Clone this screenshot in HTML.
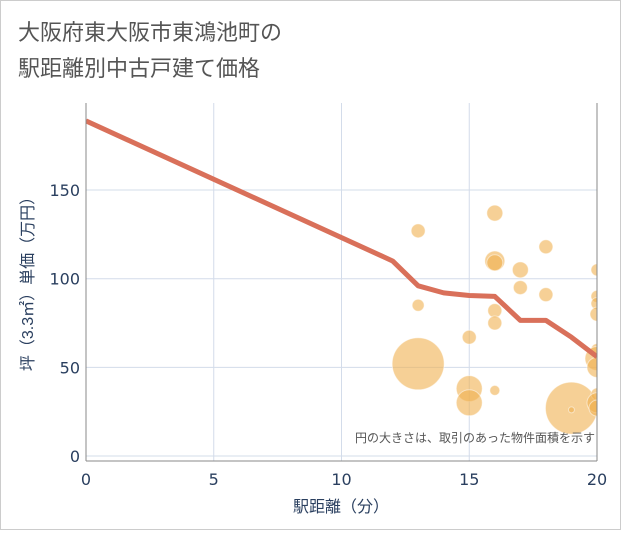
<!DOCTYPE html>
<html><head><meta charset="utf-8"><style>
body{margin:0;background:#fff;}
svg text{font-family:"Liberation Sans","Noto Sans CJK JP",sans-serif;}
svg text.num{font-family:"DejaVu Sans","Liberation Sans",sans-serif;}
</style></head><body>
<svg width="621" height="530">
<rect x="0.5" y="0.5" width="620" height="529" fill="#fff" stroke="#ccc"/>
<text x="18" y="40" font-size="22" fill="#555">大阪府東大阪市東鴻池町の</text>
<text x="18" y="76" font-size="22" fill="#555">駅距離別中古戸建て価格</text>
<defs><clipPath id="pc"><rect x="86" y="103" width="511" height="358"/></clipPath></defs>
<g id="grid"></g>
<g id="bubbles" clip-path="url(#pc)"></g>
<g id="line" clip-path="url(#pc)"></g>
<g id="axes"></g>
<text x="595" y="442" font-size="12" fill="#555" text-anchor="end">円の大きさは、取引のあった物件面積を示す</text>
<text x="341" y="512" font-size="16" fill="#2a3f5f" text-anchor="middle">駅距離（分）</text>
<text transform="translate(33,280) rotate(-90)" font-size="16" fill="#2a3f5f" text-anchor="middle">坪（3.3㎡）単価（万円）</text>
</svg>
<script>
const xTicks=[0,5,10,15,20];
const yTicks=[0,50,100,150];
const lineX=[0,12,13,14,15,16,17,18,19,20];
const lineY=[189,110,96,92,90.5,90,76.5,76.5,67,56];
const bubX=[13,13,13,15,15,15,16,16,16,16,16,16,17,17,18,18,19,19,20,20,20,20,20,20,20,20,20,20];
const bubY=[127,85,52,67,38,30,137,110,109,82,75,37,105,95,118,91,27,26,105,90,86,80,60,55,50,35,30,27];
const bubR=[7,6,26,7,13,13,8,10,8,7,7,5,8,7,7,7,26,3,6,6,6,7,6,12,10,6,10,8];
const NS='http://www.w3.org/2000/svg';
const X=v=>86+v*25.55, Y=v=>456-v*1.773;
function mk(t,a,p){const e=document.createElementNS(NS,t);for(const k in a)e.setAttribute(k,a[k]);p.appendChild(e);return e;}
const g=document.getElementById('grid'),ax=document.getElementById('axes');
xTicks.forEach(t=>{const l=mk('line',{x1:X(t),x2:X(t),y1:103,y2:461,stroke:'#d3dcea'},g);

const tx=mk('text',{x:X(t),y:485,'font-size':16,fill:'#2a3f5f','text-anchor':'middle',class:'num'},ax);tx.textContent=t;
});
yTicks.forEach(t=>{const l=mk('line',{x1:86,x2:597,y1:Y(t),y2:Y(t),stroke:'#d3dcea'},g);

const tx=mk('text',{x:80,y:Y(t)+6,'font-size':16,fill:'#2a3f5f','text-anchor':'end',class:'num'},ax);tx.textContent=t;
});
const yl=mk('line',{x1:86,x2:86,y1:103,y2:461,stroke:'#888'},ax);

const xl=mk('line',{x1:86,x2:597,y1:461,y2:461,stroke:'#888'},ax);

const rl=mk('line',{x1:597,x2:597,y1:103,y2:461,stroke:'#888'},ax);

const bg=document.getElementById('bubbles');
bubX.forEach((x,i)=>{const c=mk('circle',{cx:X(x),cy:Y(bubY[i]),r:bubR[i],fill:'#f0b050','fill-opacity':0.6,stroke:'#fff','stroke-opacity':0.5},bg);
});
const p=mk('polyline',{points:lineX.map((x,i)=>X(x)+','+Y(lineY[i])).join(' '),fill:'none',stroke:'#d9705a','stroke-width':5,'stroke-linejoin':'round'},document.getElementById('line'));

</script>
</body></html>
